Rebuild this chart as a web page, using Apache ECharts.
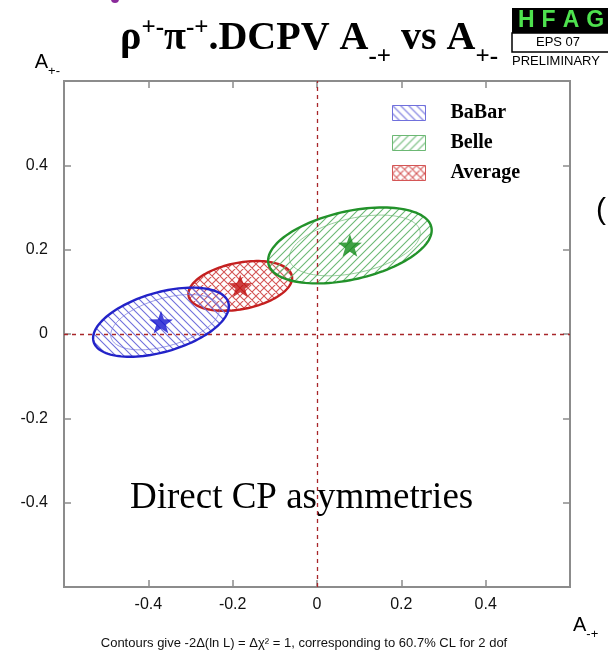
<!DOCTYPE html>
<html>
<head>
<meta charset="utf-8">
<script src="https://cdn.jsdelivr.net/npm/echarts@6/dist/echarts.min.js"></script>
<style>
html,body{margin:0;padding:0;background:#fff;}
#chart{width:608px;height:655px;}
</style>
</head>
<body>
<div id="chart"></div>
<script>
// ---- data ----
var experiments = ['BaBar', 'Belle', 'Average'];
var centerX = [-0.370, 0.078, -0.182];   // A-+
var centerY = [0.028, 0.210, 0.114];     // A+-
var sigmaX  = [0.161, 0.194, 0.123];
var sigmaY  = [0.082, 0.090, 0.059];
var corr    = [0.46, 0.40, 0.32];
var xTicks = [-0.4, -0.2, 0, 0.2, 0.4];
var yTicks = [0.4, 0.2, 0, -0.2, -0.4];

var lineColors  = ['#2323c8', '#22922a', '#c42020'];
var hatchColors = ['#7070dc', '#6cb874', '#d45656'];
var starColors  = ['#1414d0', '#108a18', '#c01010'];
var hatchKinds  = ['back', 'fwd', 'cross'];

function makeHatch(kind, color) {
  var s = 8;
  var c = document.createElement('canvas');
  c.width = s; c.height = s;
  var g = c.getContext('2d');
  g.strokeStyle = color; g.lineWidth = 1.1;
  g.beginPath();
  if (kind === 'back' || kind === 'cross') {
    g.moveTo(0, 0); g.lineTo(s, s);
    g.moveTo(-1, s - 1); g.lineTo(1, s + 1);
    g.moveTo(s - 1, -1); g.lineTo(s + 1, 1);
  }
  if (kind === 'fwd' || kind === 'cross') {
    g.moveTo(0, s); g.lineTo(s, 0);
    g.moveTo(-1, 1); g.lineTo(1, -1);
    g.moveTo(s - 1, s + 1); g.lineTo(s + 1, s - 1);
  }
  g.stroke();
  return c;
}
var patterns = experiments.map(function (n, i) {
  return { image: makeHatch(hatchKinds[i], hatchColors[i]), repeat: 'repeat' };
});

function ellipsePoints(api, cx, cy, sx, sy, r, scale) {
  var pts = [];
  var k = Math.sqrt(1 - r * r);
  for (var j = 0; j < 120; j++) {
    var t = j / 120 * Math.PI * 2;
    var x = cx + scale * sx * Math.cos(t);
    var y = cy + scale * sy * (r * Math.cos(t) + k * Math.sin(t));
    pts.push(api.coord([x, y]));
  }
  return pts;
}

var order = [2, 1, 0]; // draw Average, Belle, BaBar
var series = [];
order.forEach(function (i) {
  series.push({
    name: experiments[i],
    type: 'custom',
    xAxisIndex: 0, yAxisIndex: 0,
    z: 2,
    data: [[centerX[i], centerY[i], sigmaX[i], sigmaY[i], corr[i]]],
    itemStyle: { color: lineColors[i] },
    renderItem: function (params, api) {
      var cx = api.value(0), cy = api.value(1), sx = api.value(2), sy = api.value(3), r = api.value(4);
      var children = [{
        type: 'polygon',
        shape: { points: ellipsePoints(api, cx, cy, sx, sy, r, 1) },
        style: { fill: patterns[i], stroke: lineColors[i], lineWidth: 2.4 }
      }];
      if (i !== 2) {
        children.push({
          type: 'polygon',
          shape: { points: ellipsePoints(api, cx + sx * 0.06, cy, sx, sy, r, 0.8) },
          style: { fill: 'none', stroke: hatchColors[i], lineWidth: 1, opacity: 0.7 }
        });
      }
      return { type: 'group', children: children };
    }
  });
});
// zero lines
series.push({
  type: 'line', data: [], z: 5, silent: true,
  markLine: {
    silent: true, symbol: ['none', 'none'], label: { show: false },
    lineStyle: { color: '#a8262a', type: [4, 4], width: 1.3 },
    data: [{ xAxis: 0 }, { yAxis: 0 }]
  }
});
// best-fit stars
var starPath = 'path://M0,-10 L2.35,-3.24 L9.51,-3.09 L3.8,1.24 L5.88,8.09 L0,4 L-5.88,8.09 L-3.8,1.24 L-9.51,-3.09 L-2.35,-3.24 Z';
experiments.forEach(function (n, i) {
  series.push({
    type: 'scatter', z: 6, symbol: starPath, symbolSize: 24, symbolKeepAspect: true,
    data: [[centerX[i], centerY[i]]],
    itemStyle: { color: starColors[i] }
  });
});

var tickFont = { fontFamily: 'Liberation Sans, Arial, sans-serif', fontSize: 16, color: '#111' };
var axisCommon = {
  type: 'value', min: -0.6, max: 0.6, interval: 0.2,
  splitLine: { show: false },
  axisLine: { show: true, onZero: false, lineStyle: { color: '#8c8c8c', width: 2 } },
  axisTick: { show: true, inside: true, length: 7, lineStyle: { color: '#8c8c8c', width: 1.5 } }
};
function fmt(v) { var s = Math.round(v * 10) / 10; return s === 0 ? '0' : String(s); }

var serifF = 'Liberation Serif, Times New Roman, serif';
var sansF = 'Liberation Sans, Arial, sans-serif';

var chart = echarts.init(document.getElementById('chart'));
chart.setOption({
  backgroundColor: '#fff',
  animation: false,
  title: {
    text: '{m|ρ}{s|+-}{m|π}{s|-+}{m|.DCPV A}{u|-+}{m| vs A}{u|+-}',
    left: 115, top: 11,
    textStyle: {
      rich: {
        m: { fontFamily: serifF, fontWeight: 'bold', fontSize: 40, lineHeight: 46, color: '#000' },
        s: { fontFamily: serifF, fontWeight: 'bold', fontSize: 25, lineHeight: 12, verticalAlign: 'top', color: '#000' },
        u: { fontFamily: serifF, fontWeight: 'bold', fontSize: 25, lineHeight: 22, verticalAlign: 'bottom', padding: [0, 0, -8, 0], color: '#000' }
      }
    }
  },
  legend: {
    orient: 'vertical', left: 387, top: 98,
    itemWidth: 33, itemHeight: 15, itemGap: 10,
    data: experiments.map(function (n, i) {
      return { name: n, icon: 'rect', itemStyle: { color: patterns[i], borderColor: hatchColors[i], borderWidth: 1 } };
    }),
    textStyle: { fontFamily: serifF, fontWeight: 'bold', fontSize: 20, color: '#000', padding: [0, 0, 0, 20] }
  },
  grid: { left: 64, top: 81, width: 506, height: 506, show: true, borderColor: '#8c8c8c', borderWidth: 2 },
  xAxis: [
    Object.assign({}, axisCommon, {
      position: 'bottom',
      name: '{a|A}{b|-+}', nameLocation: 'end', nameGap: 3,
      nameTextStyle: { align: 'left', verticalAlign: 'top', padding: [28, 0, 0, 0],
        rich: { a: { fontFamily: sansF, fontSize: 20, color: '#000' },
                b: { fontFamily: sansF, fontSize: 13, color: '#000', verticalAlign: 'bottom', padding: [0, 0, -6, 0] } } },
      axisLabel: Object.assign({ margin: 10, showMinLabel: false, showMaxLabel: false, formatter: fmt }, tickFont)
    }),
    Object.assign({}, axisCommon, { position: 'top', axisLabel: { show: false } })
  ],
  yAxis: [
    Object.assign({}, axisCommon, {
      position: 'left',
      name: '{a|A}{b|+-}', nameLocation: 'end', nameGap: 9,
      nameTextStyle: { align: 'right', padding: [0, 4, 0, 0],
        rich: { a: { fontFamily: sansF, fontSize: 20, color: '#000' },
                b: { fontFamily: sansF, fontSize: 13, color: '#000', verticalAlign: 'bottom', padding: [0, 0, -6, 0] } } },
      axisLabel: Object.assign({ margin: 16, showMinLabel: false, showMaxLabel: false, formatter: fmt }, tickFont)
    }),
    Object.assign({}, axisCommon, { position: 'right', axisLabel: { show: false } })
  ],
  series: series,
  graphic: [
    { type: 'text', left: 130, top: 480, style: { text: 'Direct CP asymmetries', font: '37px "Liberation Serif", "Times New Roman", serif', fill: '#000' } },
    { type: 'text', left: 'center', top: 637, style: { text: 'Contours give -2Δ(ln L) = Δχ² = 1, corresponding to 60.7% CL for 2 dof', font: '13px "Liberation Sans Narrow", "Liberation Sans", Arial, sans-serif', fill: '#111' } },
    { type: 'rect', shape: { x: 512, y: 8, width: 110, height: 25 }, style: { fill: '#000' } },
    { type: 'text', x: 518, y: 9, style: { text: '{h|H}{h|F}{h|A}{h|G}', rich: { h: { font: 'bold 23px "Liberation Sans", Arial, sans-serif', fill: '#4ee24e', padding: [0, 7, 0, 0] } } } },
    { type: 'rect', shape: { x: 512, y: 33, width: 110, height: 19 }, style: { fill: '#fff', stroke: '#000', lineWidth: 1.5 } },
    { type: 'text', x: 536, y: 36, style: { text: 'EPS 07', font: '13px "Liberation Sans", Arial, sans-serif', fill: '#000' } },
    { type: 'text', x: 512, y: 55, style: { text: 'PRELIMINARY', font: '13px "Liberation Sans", Arial, sans-serif', fill: '#000' } },
    { type: 'circle', shape: { cx: 115, cy: -1, r: 4 }, style: { fill: '#8a2a9a' } },
    { type: 'text', x: 596, y: 196, style: { text: '(', font: '30px "Liberation Sans", Arial, sans-serif', fill: '#000' } }
  ]
});
</script>
</body>
</html>
